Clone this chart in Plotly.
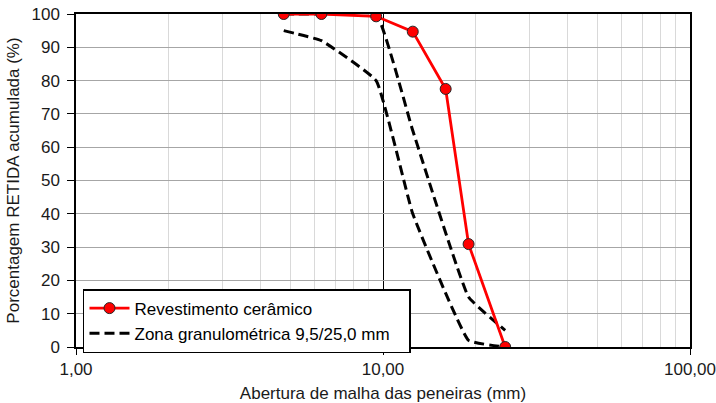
import plotly.graph_objects as go

# Sieve openings (mm) and cumulative retained percentages
sieves = [4.75, 6.3, 9.5, 12.5, 16.0, 19.0, 25.0]
ceramic_retained = [100.0, 100.0, 99.3, 94.7, 77.5, 30.9, 0.0]

zone_sieves = [4.75, 6.3, 9.5, 12.5, 19.0, 25.0]
zone_lower = [95, 92, 80, 40, 2, 0]
zone_upper = [100, 100, 100, 65, 15, 5]

x_tick_vals = [1, 10, 100]
x_tick_text = ["1,00", "10,00", "100,00"]
y_tick_vals = list(range(0, 101, 10))

FONT = "Liberation Sans, Arial, sans-serif"
FS = 17

fig = go.Figure()

zone_line = dict(color="black", width=3, dash="10px,5px", shape="spline", smoothing=0.3)

fig.add_trace(go.Scatter(
    x=zone_sieves, y=zone_upper, mode="lines", line=zone_line,
    name="Zona granulométrica 9,5/25,0 mm", showlegend=False,
))
fig.add_trace(go.Scatter(
    x=zone_sieves, y=zone_lower, mode="lines", line=zone_line,
    name="Zona granulométrica 9,5/25,0 mm   ", showlegend=True,
))
fig.add_trace(go.Scatter(
    x=sieves, y=ceramic_retained, mode="lines+markers",
    line=dict(color="#ff0000", width=2.8),
    marker=dict(size=11, color="#ff0000", line=dict(color="#262626", width=1)),
    name="Revestimento cerâmico",
))

fig.update_layout(
    width=716, height=403,
    margin=dict(l=76, r=26, t=14, b=56, autoexpand=False),
    paper_bgcolor="white", plot_bgcolor="white",
    font=dict(family=FONT, size=FS, color="#1a1a1a"),
    showlegend=True,
    legend=dict(
        x=0.0114, y=0.174, xanchor="left", yanchor="top",
        bgcolor="white", bordercolor="black", borderwidth=1.5,
        font=dict(family=FONT, size=FS, color="black"),
        traceorder="reversed", tracegroupgap=0,
        itemwidth=40,
    ),
    xaxis=dict(
        type="log", range=[0, 2], automargin=False,
        tickvals=x_tick_vals, ticktext=x_tick_text,
        ticks="outside", ticklen=6, tickcolor="black",
        showline=True, linecolor="black", linewidth=1.5, mirror=True,
        showgrid=True, gridcolor="black", gridwidth=1,
        minor=dict(dtick="D1", showgrid=True, gridcolor="#d9d9d9", gridwidth=1, ticks=""),
        zeroline=False,
        title=dict(text="Abertura de malha das peneiras (mm)", font=dict(size=FS), standoff=12),
        tickfont=dict(size=FS),
    ),
    yaxis=dict(
        range=[0, 100], tickvals=y_tick_vals, automargin=False,
        ticks="outside", ticklen=7, tickcolor="black", ticklabelstandoff=4,
        showline=True, linecolor="black", linewidth=1.5, mirror=True,
        showgrid=True, gridcolor="#a6a6a6", gridwidth=1,
        zeroline=False,
        title=dict(text="Porcentagem RETIDA acumulada (%)", font=dict(size=FS), standoff=8),
        tickfont=dict(size=FS),
    ),
)

fig.write_html("out.html")
